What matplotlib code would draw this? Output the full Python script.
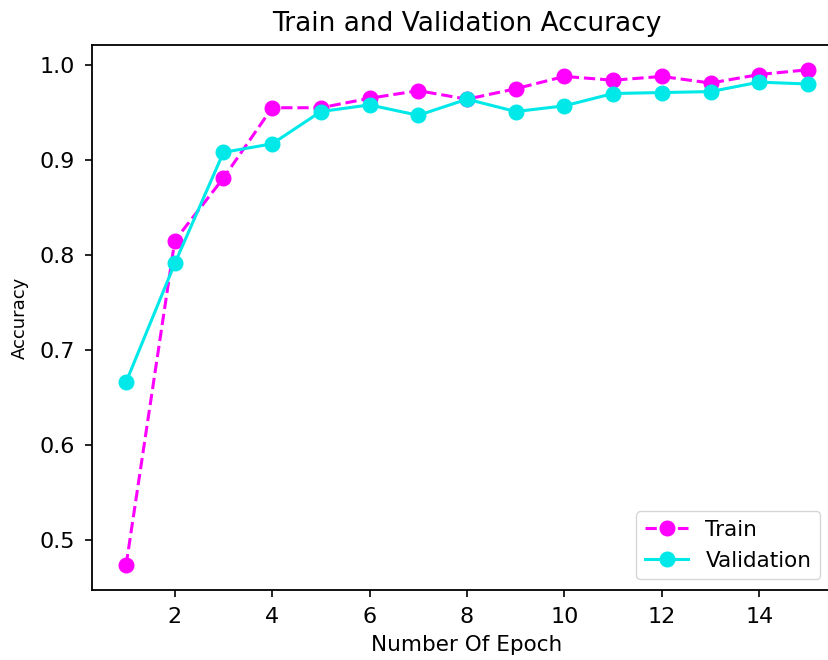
import matplotlib
matplotlib.use('Agg')
import matplotlib.pyplot as plt

epochs = list(range(1, 16))
train_acc = [0.473, 0.815, 0.881, 0.955, 0.955, 0.965, 0.973, 0.964,
             0.975, 0.988, 0.984, 0.988, 0.981, 0.990, 0.995]
val_acc = [0.666, 0.791, 0.908, 0.917, 0.951, 0.958, 0.947, 0.964,
           0.951, 0.957, 0.970, 0.971, 0.972, 0.982, 0.980]

fig = plt.figure(figsize=(8.29, 6.6), dpi=100)
# axes run past the right edge, as in the cropped original
ax = fig.add_axes([92 / 829, 1 - 590 / 660, 750 / 829, 545 / 660])

ax.plot(epochs, train_acc, 'o--', color='#ff00ff', lw=2.2, ms=10.5, label='Train')
ax.plot(epochs, val_acc, 'o-', color='#00e8e8', lw=2.2, ms=10.5, label='Validation')

ax.set_title('Train and Validation Accuracy', fontsize=19, pad=10)
ax.set_xlabel('Number Of Epoch', fontsize=15.5, labelpad=6)
ax.set_ylabel('Accuracy', fontsize=13, labelpad=8)
ax.tick_params(labelsize=16, length=5, width=1.2, pad=7)
for s in ax.spines.values():
    s.set_linewidth(1.3)
ax.legend(loc='lower right', fontsize=15.5, bbox_to_anchor=(0.985, 0.0))

fig.savefig('out.png', dpi=100)
